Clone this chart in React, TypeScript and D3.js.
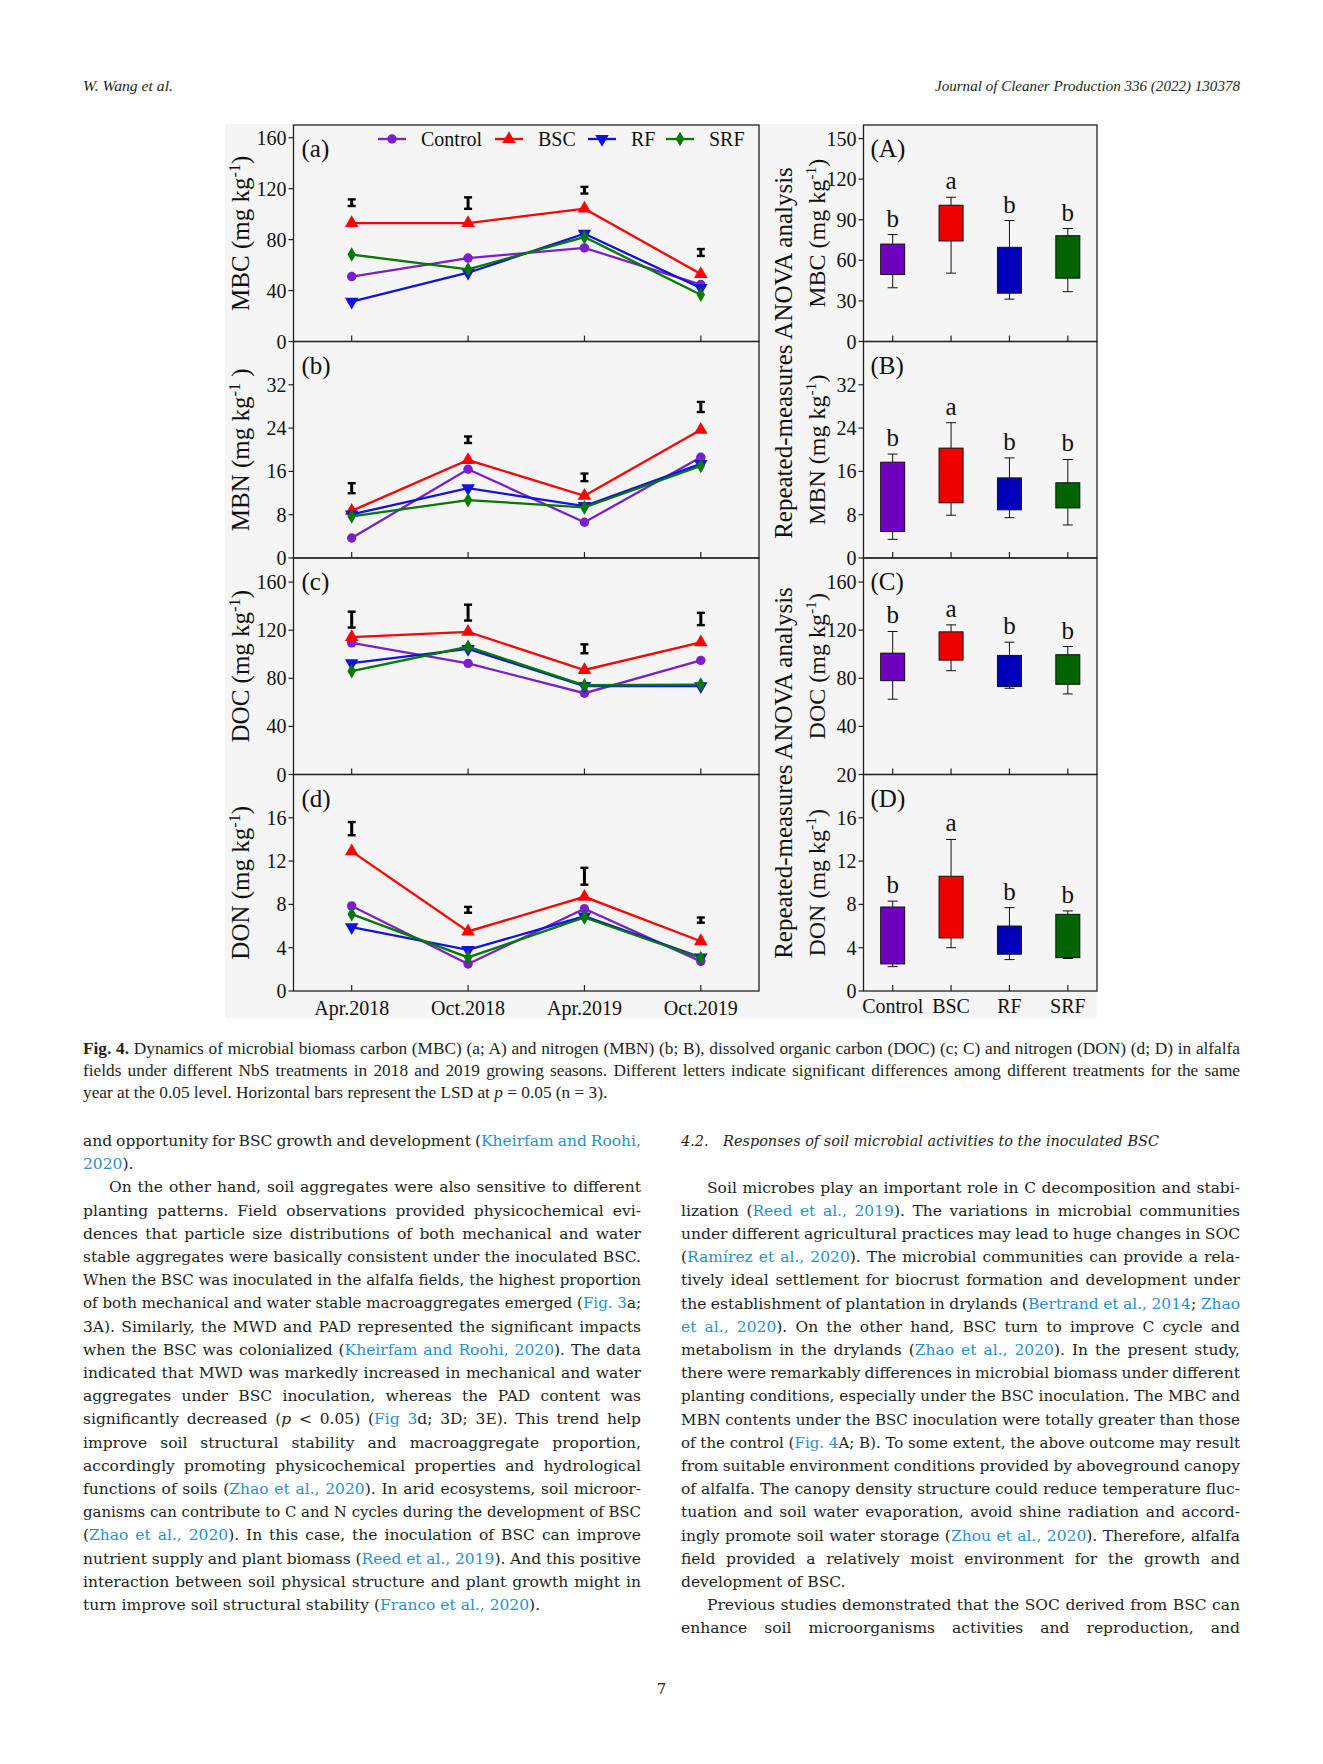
import React, { useLayoutEffect, useRef } from "react";
import * as d3 from "d3";

// ---------- data ----------
const dates = ["Apr.2018", "Oct.2018", "Apr.2019", "Oct.2019"];
const treatments = ["Control", "BSC", "RF", "SRF"];

const mbcControl = [51, 65.5, 73.5, 44.7];
const mbcBSC = [93, 93, 104.3, 53];
const mbcRF = [31.3, 54, 84.6, 42];
const mbcSRF = [68.3, 56.7, 82, 36.7];
const mbcLsdMid = [109, 108.7, 118.8, 69.9];
const mbcLsdHalf = [2.6, 4.5, 2.6, 2.7];

const mbnControl = [3.7, 16.4, 6.6, 18.6];
const mbnBSC = [8.7, 18.1, 11.5, 23.7];
const mbnRF = [8.05, 12.9, 9.6, 17.4];
const mbnSRF = [7.7, 10.7, 9.35, 17.0];
const mbnLsdMid = [12.9, 21.85, 14.9, 27.9];
const mbnLsdHalf = [0.93, 0.6, 0.7, 0.93];

const docControl = [109.5, 92.4, 67.6, 94.9];
const docBSC = [114.2, 118.6, 86.9, 109.8];
const docRF = [92.6, 104.5, 73.6, 73.4];
const docSRF = [86, 106.2, 74.2, 74.8];
const docLsdMid = [128.8, 134.6, 104.5, 129.3];
const docLsdHalf = [6.6, 6.6, 3.7, 5.1];

const donControl = [7.86, 2.5, 7.6, 2.74];
const donBSC = [12.9, 5.5, 8.7, 4.6];
const donRF = [5.9, 3.8, 6.9, 3.1];
const donSRF = [7.1, 3.1, 6.8, 3.05];
const donLsdMid = [15.0, 7.5, 10.6, 6.55];
const donLsdHalf = [0.61, 0.27, 0.78, 0.24];

// box stats: [lower whisker, q1, q3, upper whisker] per treatment
const boxMBC = [[39.7, 49.5, 72, 79], [50.5, 74.3, 100.7, 106.6], [31.3, 35.7, 69.6, 89.4], [36.8, 46.8, 78.2, 83.5]];
const boxMBN = [[3.45, 4.9, 17.7, 19.2], [7.9, 10.2, 20.3, 25], [7.45, 8.9, 14.8, 18.5], [6.1, 9.25, 13.9, 18.2]];
const boxDOC = [[62.6, 78, 100.9, 118.9], [86.3, 95.1, 118.6, 124.4], [71.7, 73.1, 99, 110], [67, 75, 99.6, 106.4]];
const boxDON = [[2.25, 2.5, 7.76, 8.3], [4.0, 4.9, 10.6, 14.0], [2.9, 3.4, 6.0, 7.7], [3.0, 3.08, 7.08, 7.4]];
const sigLetters = ["b", "a", "b", "b"];

const leftTicksA = [0, 40, 80, 120, 160];
const leftTicksB = [0, 8, 16, 24, 32];
const leftTicksC = [0, 40, 80, 120, 160];
const leftTicksD = [0, 4, 8, 12, 16];
const rightTicksA = [0, 30, 60, 90, 120, 150];
const rightTicksB = [0, 8, 16, 24, 32];
const rightTicksC = [40, 80, 120, 160];
const rightTicksD = [0, 4, 8, 12, 16, 20];

const headerLeft = "W. Wang et al.";
const headerRight = "Journal of Cleaner Production 336 (2022) 130378";
const captionLines = [
  "*Fig. 4.* Dynamics of microbial biomass carbon (MBC) (a; A) and nitrogen (MBN) (b; B), dissolved organic carbon (DOC) (c; C) and nitrogen (DON) (d; D) in alfalfa",
  "fields under different NbS treatments in 2018 and 2019 growing seasons. Different letters indicate significant differences among different treatments for the same",
  "year at the 0.05 level. Horizontal bars represent the LSD at [p] = 0.05 (n = 3).",
];
const leftText = [
  "and opportunity for BSC growth and development ({Kheirfam and Roohi,}",
  "{2020}).|",
  ">On the other hand, soil aggregates were also sensitive to different",
  "planting patterns. Field observations provided physicochemical evi-",
  "dences that particle size distributions of both mechanical and water",
  "stable aggregates were basically consistent under the inoculated BSC.",
  "When the BSC was inoculated in the alfalfa fields, the highest proportion",
  "of both mechanical and water stable macroaggregates emerged ({Fig. 3}a;",
  "3A). Similarly, the MWD and PAD represented the significant impacts",
  "when the BSC was colonialized ({Kheirfam and Roohi, 2020}). The data",
  "indicated that MWD was markedly increased in mechanical and water",
  "aggregates under BSC inoculation, whereas the PAD content was",
  "significantly decreased ([p] < 0.05) ({Fig 3}d; 3D; 3E). This trend help",
  "improve soil structural stability and macroaggregate proportion,",
  "accordingly promoting physicochemical properties and hydrological",
  "functions of soils ({Zhao et al., 2020}). In arid ecosystems, soil microor-",
  "ganisms can contribute to C and N cycles during the development of BSC",
  "({Zhao et al., 2020}). In this case, the inoculation of BSC can improve",
  "nutrient supply and plant biomass ({Reed et al., 2019}). And this positive",
  "interaction between soil physical structure and plant growth might in",
  "turn improve soil structural stability ({Franco et al., 2020}).|",
];
const rightHeading = "4.2.\u2003Responses of soil microbial activities to the inoculated BSC";
const rightText = [
  ">Soil microbes play an important role in C decomposition and stabi-",
  "lization ({Reed et al., 2019}). The variations in microbial communities",
  "under different agricultural practices may lead to huge changes in SOC",
  "({Ramírez et al., 2020}). The microbial communities can provide a rela-",
  "tively ideal settlement for biocrust formation and development under",
  "the establishment of plantation in drylands ({Bertrand et al., 2014}; {Zhao}",
  "{et al., 2020}). On the other hand, BSC turn to improve C cycle and",
  "metabolism in the drylands ({Zhao et al., 2020}). In the present study,",
  "there were remarkably differences in microbial biomass under different",
  "planting conditions, especially under the BSC inoculation. The MBC and",
  "MBN contents under the BSC inoculation were totally greater than those",
  "of the control ({Fig. 4}A; B). To some extent, the above outcome may result",
  "from suitable environment conditions provided by aboveground canopy",
  "of alfalfa. The canopy density structure could reduce temperature fluc-",
  "tuation and soil water evaporation, avoid shine radiation and accord-",
  "ingly promote soil water storage ({Zhou et al., 2020}). Therefore, alfalfa",
  "field provided a relatively moist environment for the growth and",
  "development of BSC.|",
  ">Previous studies demonstrated that the SOC derived from BSC can",
  "enhance soil microorganisms activities and reproduction, and",
];

// ---------- styling / layout ----------
const lineColors = ["#7b1fcc", "#ff0000", "#1212e0", "#007a00"];
const boxColors = ["#7000c0", "#ee0000", "#0000bb", "#006400"];
const linkColor = "#2a8fcf";
const bodyFont = "'DejaVu Serif', serif";
const LX0 = 293.5, LX1 = 759, RX0 = 863.5, RX1 = 1097;
const PT = [125, 341.5, 558, 774.5];
const PH = 216.5;

const symTypes = [d3.symbolCircle, d3.symbolTriangle, d3.symbolTriangle, d3.symbolDiamond];
const symRot = [0, 0, 180, 0];
const symSize = [70, 80, 80, 62];

function Marker({ i, x, y }: { i: number; x: number; y: number }) {
  const p = d3.symbol().type(symTypes[i]).size(symSize[i])() || "";
  return <path d={p} transform={`translate(${x},${y}) rotate(${symRot[i]})`} fill={lineColors[i]} />;
}

function renderRich(t: string) {
  const parts = t.split(/(\{[^}]*\}|\[[^\]]*\]|\*[^*]*\*)/).filter((s) => s.length > 0);
  return parts.map((s, k) => {
    if (s.startsWith("{")) return <tspan key={k} fill={linkColor}>{s.slice(1, -1)}</tspan>;
    if (s.startsWith("[")) return <tspan key={k} fontStyle="italic">{s.slice(1, -1)}</tspan>;
    if (s.startsWith("*")) return <tspan key={k} fontWeight="bold">{s.slice(1, -1)}</tspan>;
    return <tspan key={k}>{s}</tspan>;
  });
}

function TextBlock({ lines, x, width, y0, dy, size, indent, font }: any) {
  return (
    <g fontSize={size} fill="#231f20" fontFamily={font}>
      {lines.map((raw: string, k: number) => {
        let t = raw;
        let ind = 0;
        let justify = true;
        if (t.startsWith(">")) { ind = indent; t = t.slice(1); }
        if (t.endsWith("|")) { justify = false; t = t.slice(0, -1); }
        const w = width - ind;
        return (
          <text key={k} x={x + ind} y={y0 + k * dy} {...(justify ? { "data-justify": w } : {})}>
            {renderRich(t)}
          </text>
        );
      })}
    </g>
  );
}

function YTitle({ x, y, name, size, spaced }: any) {
  return (
    <text transform={`translate(${x},${y}) rotate(-90)`} textAnchor="middle" fontSize={size} fill="#111">
      {name} (mg kg<tspan dy={-9} fontSize={size * 0.65}>-1</tspan>
      <tspan dy={9}>{spaced ? " )" : ")"}</tspan>
    </text>
  );
}

export default function App() {
  const ref = useRef<SVGSVGElement>(null);
  useLayoutEffect(() => {
    const svg = ref.current;
    if (!svg) return;
    svg.querySelectorAll<SVGTextElement>("text[data-justify]").forEach((t) => {
      const target = +(t.getAttribute("data-justify") || 0);
      t.style.wordSpacing = "0px";
      const w = t.getComputedTextLength();
      const spaces = ((t.textContent || "").match(/ /g) || []).length;
      const diff = target - w;
      if (spaces > 0 && diff > -spaces * 1.2) {
        t.style.wordSpacing = diff / spaces + "px";
      } else {
        t.setAttribute("textLength", String(target));
        t.setAttribute("lengthAdjust", "spacingAndGlyphs");
      }
    });
  }, []);

  const xL = d3.scaleLinear().domain([0.5, 4.5]).range([LX0, LX1]);
  const xR = d3.scaleLinear().domain([0.5, 4.5]).range([RX0, RX1]);

  const leftPanels = [
    { label: "(a)", name: "MBC", series: [mbcControl, mbcBSC, mbcRF, mbcSRF], mid: mbcLsdMid, half: mbcLsdHalf, max: 170, ticks: leftTicksA, spaced: false },
    { label: "(b)", name: "MBN", series: [mbnControl, mbnBSC, mbnRF, mbnSRF], mid: mbnLsdMid, half: mbnLsdHalf, max: 40, ticks: leftTicksB, spaced: true },
    { label: "(c)", name: "DOC", series: [docControl, docBSC, docRF, docSRF], mid: docLsdMid, half: docLsdHalf, max: 180, ticks: leftTicksC, spaced: false },
    { label: "(d)", name: "DON", series: [donControl, donBSC, donRF, donSRF], mid: donLsdMid, half: donLsdHalf, max: 20, ticks: leftTicksD, spaced: false },
  ];
  const rightPanels = [
    { label: "(A)", name: "MBC", boxes: boxMBC, max: 160, ticks: rightTicksA },
    { label: "(B)", name: "MBN", boxes: boxMBN, max: 40, ticks: rightTicksB },
    { label: "(C)", name: "DOC", boxes: boxDOC, max: 180, ticks: rightTicksC },
    { label: "(D)", name: "DON", boxes: boxDON, max: 20, ticks: rightTicksD },
  ];
  const axisCol = "#222";
  const idx = [1, 2, 3, 4];

  return (
    <svg ref={ref} width={1323} height={1764} style={{ position: "absolute", left: 0, top: 0, background: "#fff" }}
      fontFamily="'Liberation Serif', 'Times New Roman', serif">
      <rect x={0} y={0} width={1323} height={1764} fill="#fff" />
      {/* header */}
      <text x={83} y={91} fontSize={15} fontStyle="italic" textLength={90} lengthAdjust="spacingAndGlyphs" fill="#231f20">{headerLeft}</text>
      <text x={935} y={91} fontSize={15} fontStyle="italic" textLength={305} lengthAdjust="spacingAndGlyphs" fill="#231f20">{headerRight}</text>

      {/* chart background */}
      <rect x={225} y={124} width={872} height={894} fill="#f5f5f5" />

      {/* left column line panels */}
      {leftPanels.map((p, pi) => {
        const top = PT[pi];
        const y = d3.scaleLinear().domain([0, p.max]).range([top + PH, top]);
        const line = d3.line<number>().x((_, i) => xL(i + 1)).y((d) => y(d));
        return (
          <g key={pi}>
            <rect x={LX0} y={top} width={LX1 - LX0} height={PH} fill="none" stroke={axisCol} strokeWidth={1.3} />
            {p.ticks.map((t) => (
              <g key={t}>
                <line x1={LX0 - 5} x2={LX0} y1={y(t)} y2={y(t)} stroke={axisCol} strokeWidth={1.2} />
                <text x={LX0 - 7} y={y(t)} dy="0.35em" textAnchor="end" fontSize={20} fill="#111">{t}</text>
              </g>
            ))}
            {idx.map((k) => (
              <line key={k} x1={xL(k)} x2={xL(k)} y1={top + PH} y2={top + PH - 6} stroke={axisCol} strokeWidth={1.2} />
            ))}
            <text x={LX0 + 8} y={top + 32} fontSize={25} fill="#111">{p.label}</text>
            <YTitle x={249} y={top + PH / 2} name={p.name} size={25} spaced={p.spaced} />
            {/* LSD bars */}
            {p.mid.map((m, k) => {
              const cx = xL(k + 1);
              const y1 = y(m + p.half[k]);
              const y2 = y(m - p.half[k]);
              return (
                <g key={k} stroke="#000">
                  <line x1={cx} x2={cx} y1={y1} y2={y2} strokeWidth={3} />
                  <line x1={cx - 4} x2={cx + 4} y1={y1} y2={y1} strokeWidth={2.4} />
                  <line x1={cx - 4} x2={cx + 4} y1={y2} y2={y2} strokeWidth={2.4} />
                </g>
              );
            })}
            {p.series.map((s, si) => (
              <g key={si}>
                <path d={line(s) || ""} fill="none" stroke={lineColors[si]} strokeWidth={2.3} />
                {s.map((v, k) => <Marker key={k} i={si} x={xL(k + 1)} y={y(v)} />)}
              </g>
            ))}
          </g>
        );
      })}
      {/* x labels left */}
      {dates.map((d, k) => (
        <text key={d} x={xL(k + 1)} y={1015} textAnchor="middle" fontSize={20} fill="#111">{d}</text>
      ))}
      {/* legend */}
      {treatments.map((t, i) => {
        const lx = [378, 495, 588, 666][i];
        const tx = [421, 538, 631, 709][i];
        const ly = 139;
        return (
          <g key={t}>
            <line x1={lx} x2={lx + 28} y1={ly} y2={ly} stroke={lineColors[i]} strokeWidth={2.3} />
            <Marker i={i} x={lx + 14} y={ly} />
            <text x={tx} y={ly} dy="0.35em" fontSize={20} fill="#111">{t}</text>
          </g>
        );
      })}

      {/* right column box panels */}
      {rightPanels.map((p, pi) => {
        const top = PT[pi];
        const y = d3.scaleLinear().domain([0, p.max]).range([top + PH, top]);
        return (
          <g key={pi}>
            <rect x={RX0} y={top} width={RX1 - RX0} height={PH} fill="none" stroke={axisCol} strokeWidth={1.3} />
            {p.ticks.map((t) => (
              <g key={t}>
                <line x1={RX0 - 5} x2={RX0} y1={y(t)} y2={y(t)} stroke={axisCol} strokeWidth={1.2} />
                <text x={RX0 - 7} y={y(t)} dy="0.35em" textAnchor="end" fontSize={20} fill="#111">{t}</text>
              </g>
            ))}
            {idx.map((k) => (
              <line key={k} x1={xR(k)} x2={xR(k)} y1={top + PH} y2={top + PH - 6} stroke={axisCol} strokeWidth={1.2} />
            ))}
            <text x={RX0 + 7} y={top + 32} fontSize={25} fill="#111">{p.label}</text>
            <YTitle x={825} y={top + PH / 2} name={p.name} size={24} spaced={false} />
            {p.boxes.map((b, i) => {
              const cx = xR(i + 1);
              const bw = 24;
              return (
                <g key={i} stroke="#111" strokeWidth={1}>
                  <line x1={cx} x2={cx} y1={y(b[3])} y2={y(b[2])} />
                  <line x1={cx} x2={cx} y1={y(b[1])} y2={y(b[0])} />
                  <line x1={cx - 5} x2={cx + 5} y1={y(b[3])} y2={y(b[3])} />
                  <line x1={cx - 5} x2={cx + 5} y1={y(b[0])} y2={y(b[0])} />
                  <rect x={cx - bw / 2} y={y(b[2])} width={bw} height={y(b[1]) - y(b[2])} fill={boxColors[i]} />
                  <text x={cx} y={y(b[3]) - 8} textAnchor="middle" fontSize={25} fill="#111" stroke="none">{sigLetters[i]}</text>
                </g>
              );
            })}
          </g>
        );
      })}
      {treatments.map((t, k) => (
        <text key={t} x={xR(k + 1)} y={1013} textAnchor="middle" fontSize={20} fill="#111">{t}</text>
      ))}
      <text transform="translate(792,353) rotate(-90)" textAnchor="middle" fontSize={25} fill="#111">Repeated-measures ANOVA analysis</text>
      <text transform="translate(792,773) rotate(-90)" textAnchor="middle" fontSize={25} fill="#111">Repeated-measures ANOVA analysis</text>

      {/* caption */}
      <TextBlock lines={captionLines.map((l, k) => (k === 2 ? l + "|" : l))} x={83} width={1157} y0={1054} dy={21.8} size={17.3} indent={0} font="'Liberation Serif', serif" />

      {/* body columns */}
      <TextBlock lines={leftText} x={83} width={558} y0={1146} dy={23.2} size={15.5} indent={26} font={bodyFont} />
      <text x={681} y={1146} fontSize={15.5} fontStyle="italic" fill="#231f20" fontFamily={bodyFont} textLength={478} lengthAdjust="spacingAndGlyphs">{rightHeading}</text>
      <TextBlock lines={rightText} x={681} width={559} y0={1192.5} dy={23.2} size={15.5} indent={26} font={bodyFont} />

      <text x={661.5} y={1694} textAnchor="middle" fontSize={15} fill="#231f20" fontFamily={bodyFont}>7</text>
    </svg>
  );
}
